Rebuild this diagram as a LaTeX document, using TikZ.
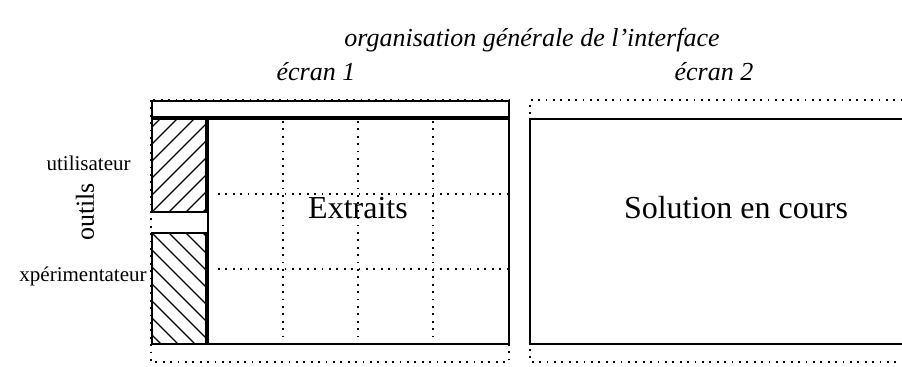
\documentclass[tikz,border=0pt]{standalone}
\usepackage{fontspec}
\setmainfont{Liberation Serif}
\begin{document}
\begin{tikzpicture}[x=0.5pt,y=-0.5pt,
    every node/.style={inner sep=0pt},
    frame/.style={line width=1pt},
    dots/.style={line width=0.9pt,dash pattern=on 0.9pt off 2.8pt},
    hatch/.style={line width=0.6pt},
    titre/.style={font=\fontsize{13}{15}\selectfont\itshape}]
    \useasboundingbox (0,0) rectangle (902,366);

    % Titles
    \node[titre] (interface) at (532,40) {organisation générale de l’interface};
    \node[titre] (ecran1) at (316,72) {écran 1};
    \node[titre] (ecran2) at (714,72) {écran 2};

    % Screen frames
    \draw[dots] (151,100) rectangle (509,362);
    \draw[dots] (910,100) -- (530,100) -- (530,362) -- (910,362);

    % Screen 1: top bar and grid of extracts
    \draw[frame] (152,101) rectangle (509,117);
    \foreach \x in {283,358,433}
        \draw[dots] (\x,121) -- (\x,344);
    \foreach \y in {194,269}
        \draw[dots] (218,\y) -- (509,\y);
    \draw[frame] (208,119) rectangle (509,344);

    % Tools (hatched)
    \begin{scope}
        \clip (152,119) rectangle (206,212);
        \foreach \k in {-6,...,3}
            \draw[hatch] (152+17*\k,212) -- ++(93,-93);
    \end{scope}
    \begin{scope}
        \clip (152,233) rectangle (206,344);
        \foreach \k in {-7,...,3}
            \draw[hatch] (152+17*\k,233) -- ++(111,111);
    \end{scope}
    \draw[frame] (152,119) rectangle (206,212);
    \draw[frame] (152,233) rectangle (206,344);

    % Screen 2
    \draw[frame] (910,119) -- (530,119) -- (530,344) -- (910,344);

    % Labels
    \node[anchor=east,font=\fontsize{10.5}{12}\selectfont] (utilisateur) at (131,163) {utilisateur};
    \node[anchor=east,font=\fontsize{10.5}{12}\selectfont] (experimentateur) at (147,276) {xpérimentateur};
    \node[rotate=90,font=\fontsize{13}{15}\selectfont] (outils) at (85,212) {outils};
    \node[font=\fontsize{16}{18}\selectfont] (extraits) at (358,208) {Extraits};
    \node[font=\fontsize{16}{18}\selectfont] (solution) at (736,208) {Solution en cours};
\end{tikzpicture}
\end{document}
